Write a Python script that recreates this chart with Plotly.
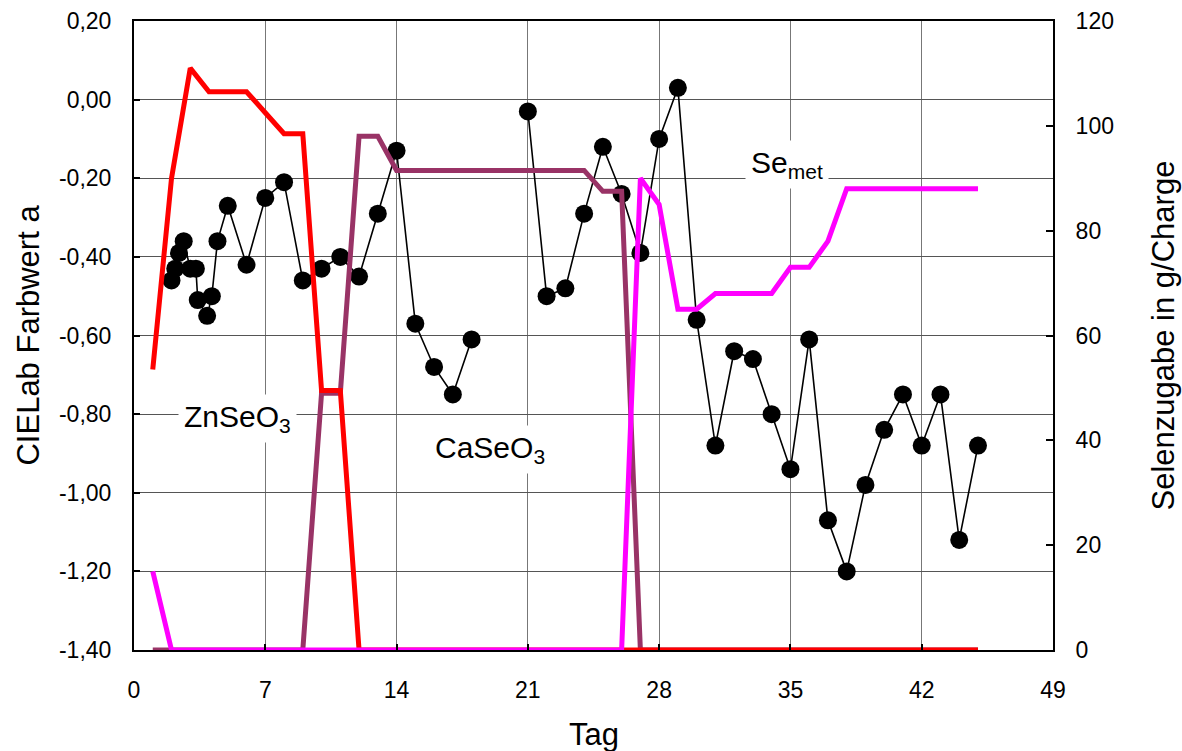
import plotly.graph_objects as go

# ---- data ----
black_day = [2.0, 2.2, 2.4, 2.65, 3.0, 3.3, 3.4, 3.9, 4.15, 4.45, 5, 6, 7, 8, 9, 10, 11, 12, 13, 14,
             15, 16, 17, 18, 19, 20, 21, 22, 23, 24, 25, 26, 27, 28, 29, 30, 31, 32, 33, 34, 35,
             36, 37, 38, 39, 40, 41, 42, 43, 44, 45]
black_a = [-0.46, -0.43, -0.39, -0.36, -0.43, -0.43, -0.51, -0.55, -0.50, -0.36, -0.27, -0.42, -0.25,
           -0.21, -0.46, -0.43, -0.40, -0.45, -0.29, -0.13, -0.57, -0.68, -0.75, -0.61, None, None,
           -0.03, -0.50, -0.48, -0.29, -0.12, -0.24, -0.39, -0.10, 0.03, -0.56, -0.88, -0.64, -0.66,
           -0.80, -0.94, -0.61, -1.07, -1.20, -0.98, -0.84, -0.75, -0.88, -0.75, -1.12, -0.88]

days = list(range(1, 46))
znseo3 = [53.5, 90, 111, 106.5, 106.5, 106.5, 102.5, 98.5, 98.5, 49.5, 49.5, 0, 0, 0, 0, 0, 0, 0, 0, 0,
          0, 0, 0, 0, 0, 0, 0, 0, 0, 0, 0, 0, 0, 0, 0, 0, 0, 0, 0, 0, 0, 0, 0, 0, 0]
caseo3 = [0, 0, 0, 0, 0, 0, 0, 0, 0, 49, 49, 98, 98, 91.5, 91.5, 91.5, 91.5, 91.5, 91.5, 91.5, 91.5,
          91.5, 91.5, 91.5, 87.5, 87.5, 0, 0, 0, 0, 0, 0, 0, 0, 0, 0, 0, 0, 0, 0, 0, 0, 0, 0, 0]
semet = [15, 0, 0, 0, 0, 0, 0, 0, 0, 0, 0, 0, 0, 0, 0, 0, 0, 0, 0, 0, 0, 0, 0, 0, 0, 0, 90, 85, 65, 65,
         68, 68, 68, 68, 73, 73, 78, 88, 88, 88, 88, 88, 88, 88, 88]

x_ticks = [0, 7, 14, 21, 28, 35, 42, 49]
y_ticks = [0.2, 0.0, -0.2, -0.4, -0.6, -0.8, -1.0, -1.2, -1.4]
y_ticktext = ["0,20", "0,00", "-0,20", "-0,40", "-0,60", "-0,80", "-1,00", "-1,20", "-1,40"]
y2_ticks = [0, 20, 40, 60, 80, 100, 120]

FONT = "Liberation Sans, Arial, sans-serif"

fig = go.Figure()
fig.add_trace(go.Scatter(x=days, y=caseo3, yaxis="y2", mode="lines",
                         line=dict(color="#993366", width=5), showlegend=False))
fig.add_trace(go.Scatter(x=days, y=znseo3, yaxis="y2", mode="lines",
                         line=dict(color="#FF0000", width=5), showlegend=False))
fig.add_trace(go.Scatter(x=days, y=semet, yaxis="y2", mode="lines",
                         line=dict(color="#FF00FF", width=5), showlegend=False))
fig.add_trace(go.Scatter(x=black_day, y=black_a, mode="lines+markers",
                         line=dict(color="black", width=1.6),
                         marker=dict(color="black", size=18), connectgaps=False,
                         showlegend=False))

ann_font = dict(family=FONT, size=30, color="black")
fig.add_annotation(x=5.5, y=-0.81, xref="x", yref="y", text="ZnSeO<sub>3</sub>",
                   showarrow=False, bgcolor="white", font=ann_font, borderpad=5)
fig.add_annotation(x=19.0, y=-0.89, xref="x", yref="y", text="CaSeO<sub>3</sub>",
                   showarrow=False, bgcolor="white", font=ann_font, borderpad=5)
fig.add_annotation(x=34.8, y=-0.165, xref="x", yref="y", text="Se<sub>met</sub>",
                   showarrow=False, bgcolor="white", font=ann_font, borderpad=5)

title_font = dict(family=FONT, size=31, color="black")
fig.add_annotation(x=0.5, y=-0.135, xref="paper", yref="paper", text="Tag",
                   showarrow=False, font=title_font, xanchor="center", yanchor="middle")
fig.add_annotation(x=1.1197, y=0.5, xref="paper", yref="paper", text="Selenzugabe in g/Charge",
                   showarrow=False, font=title_font, textangle=-90,
                   xanchor="center", yanchor="middle")
fig.add_annotation(x=-0.1153, y=0.5, xref="paper", yref="paper", text="CIELab Farbwert a",
                   showarrow=False, font=title_font, textangle=-90,
                   xanchor="center", yanchor="middle")

fig.update_layout(
    width=1182, height=751,
    margin=dict(l=134, r=129, t=21, b=101),
    paper_bgcolor="white", plot_bgcolor="white",
    font=dict(family=FONT, size=23, color="black"),
    xaxis=dict(range=[0, 49], tickvals=x_ticks, ticks="inside", ticklen=6, tickwidth=2,
               tickcolor="black", showline=True, linecolor="black", linewidth=2, mirror=True,
               showgrid=True, gridcolor="#777777", gridwidth=1, zeroline=False,
               ticklabelstandoff=18, automargin=False),
    yaxis=dict(range=[-1.4, 0.2], tickvals=y_ticks, ticktext=y_ticktext, ticks="inside",
               ticklen=6, tickwidth=2, tickcolor="black", showline=True, linecolor="black",
               linewidth=2, showgrid=True, gridcolor="#555555", gridwidth=1, zeroline=False,
               ticklabelstandoff=16, automargin=False),
    yaxis2=dict(range=[0, 120], tickvals=y2_ticks, overlaying="y", side="right",
                ticks="inside", ticklen=7, tickwidth=2, tickcolor="black", showline=True,
                linecolor="black", linewidth=2, showgrid=False, zeroline=False,
                ticklabelstandoff=16, automargin=False),
)

fig.write_html("out.html")
